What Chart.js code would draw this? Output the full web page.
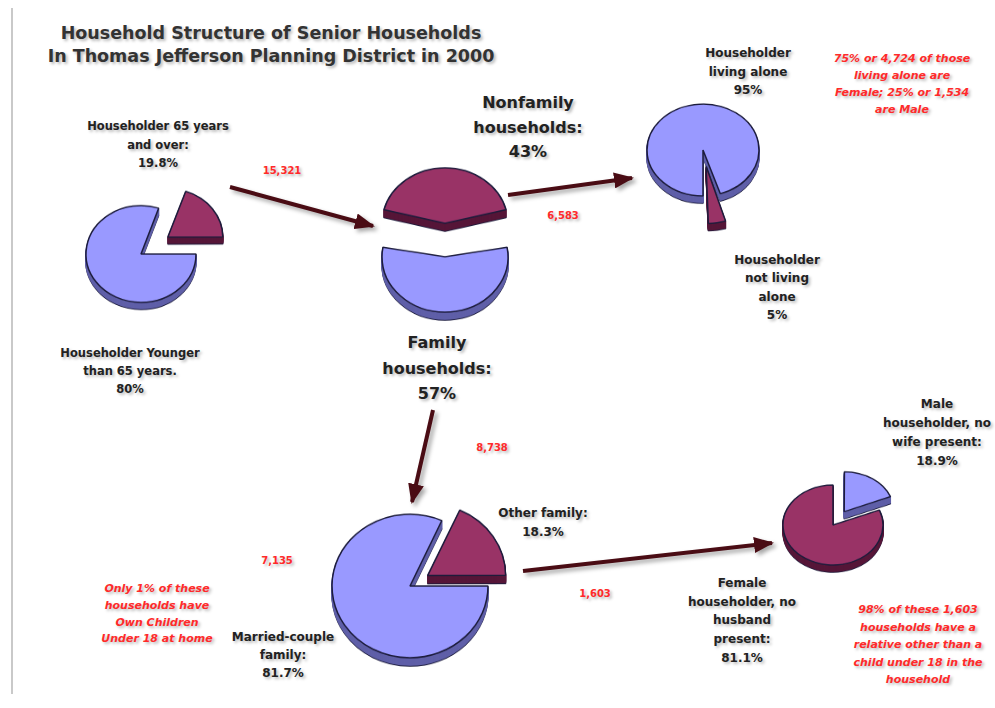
<!DOCTYPE html>
<html>
<head>
<meta charset="utf-8">
<script src="https://cdn.jsdelivr.net/npm/chart.js@4.4.0/dist/chart.umd.min.js"></script>
<style>
    body { margin: 0; background: #fff; width: 995px; height: 708px; position: relative; overflow: hidden; font-family: "DejaVu Sans", sans-serif; }
    .edge { position: absolute; left: 11px; top: 8px; width: 2px; height: 686px; background: #c9c9c9; }
    .pie { position: absolute; }
    .lbl { position: absolute; transform: translateX(-50%); text-align: center; font-weight: bold; color: #222; white-space: nowrap; text-shadow: 2px 2px 3px rgba(0,0,0,0.28); }
    .title { font-size: 17.5px; line-height: 23px; color: #333; }
    .small { font-size: 11.5px; }
    .mid { font-size: 12px; }
    .big { font-size: 16px; }
    .note { color: #ff2a2a; font-style: italic; font-size: 11px; }
    .num { position: absolute; transform: translate(-50%, -50%); color: #ff2a2a; font-weight: bold; font-size: 10px; text-shadow: 2px 2px 3px rgba(0,0,0,0.28); }
    svg { position: absolute; left: 0; top: 0; }
</style>
</head>
<body>
<div class="edge"></div>

<div class="lbl title" style="left:271px; top:22px">Household Structure of Senior Households<br>In Thomas Jefferson Planning District in 2000</div>

<div class="lbl small" style="left:158px; top:117px; line-height:18.5px">Householder 65 years<br>and over:<br>19.8%</div>
<div class="lbl small" style="left:130px; top:344px; line-height:18px">Householder Younger<br>than 65 years.<br>80%</div>
<div class="lbl big" style="left:528px; top:91px; line-height:24.5px">Nonfamily<br>households:<br>43%</div>
<div class="lbl big" style="left:437px; top:330px; line-height:25.5px">Family<br>households:<br>57%</div>
<div class="lbl mid" style="left:748px; top:44px; line-height:18.5px">Householder<br>living alone<br>95%</div>
<div class="lbl mid" style="left:777px; top:251px; line-height:18.3px">Householder<br>not living<br>alone<br>5%</div>
<div class="lbl note" style="left:902px; top:50px; line-height:17px">75% or 4,724 of those<br>living alone are<br>Female; 25% or 1,534<br>are Male</div>
<div class="lbl mid" style="left:543px; top:504px; line-height:19px">Other family:<br>18.3%</div>
<div class="lbl mid" style="left:283px; top:628px; line-height:18px">Married-couple<br>family:<br>81.7%</div>
<div class="lbl note" style="left:157px; top:581px; line-height:16.8px">Only 1% of these<br>households have<br>Own Children<br>Under 18 at home</div>
<div class="lbl mid" style="left:937px; top:395px; line-height:19px">Male<br>householder, no<br>wife present:<br>18.9%</div>
<div class="lbl mid" style="left:742px; top:574px; line-height:18.7px">Female<br>householder, no<br>husband<br>present:<br>81.1%</div>
<div class="lbl note" style="left:918px; top:601px; line-height:17.5px">98% of these 1,603<br>households have a<br>relative other than a<br>child under 18 in the<br>household</div>

<div class="num" style="left:282px; top:170px">15,321</div>
<div class="num" style="left:563px; top:215px">6,583</div>
<div class="num" style="left:492px; top:447px">8,738</div>
<div class="num" style="left:277px; top:560px">7,135</div>
<div class="num" style="left:595px; top:593px">1,603</div>

<svg width="995" height="708">
    <defs>
        <marker id="head" markerUnits="userSpaceOnUse" markerWidth="20" markerHeight="16" refX="18" refY="8" orient="auto">
            <path d="M0,0 L20,8 L0,16 Z" fill="#4a0c14"/>
        </marker>
    </defs>
    <g stroke="#4a0c14" stroke-width="4" marker-end="url(#head)" style="filter: drop-shadow(3px 3px 2px rgba(0,0,0,0.35))">
        <line x1="230" y1="187" x2="373" y2="226"/>
        <line x1="508" y1="195" x2="632" y2="178"/>
        <line x1="433" y1="410" x2="412" y2="502"/>
        <line x1="523" y1="571" x2="772" y2="543"/>
    </g>
</svg>

<script>
// ====== DATA ======
const BLUE = '#9999ff';
const MAROON = '#993366';
const BLUE_SIDE = '#5f5fa8';
const MAROON_SIDE = '#561638';

const ageLabels = ['Householder Younger than 65 years', 'Householder 65 years and over'];
const ageValues = [80.2, 19.8];

const typeLabels = ['Nonfamily households', 'Family households'];
const typeValues = [43, 57];

const nonfamilyLabels = ['Householder living alone', 'Householder not living alone'];
const nonfamilyValues = [95, 5];

const familyLabels = ['Married-couple family', 'Other family'];
const familyValues = [81.7, 18.3];

const otherLabels = ['Male householder, no wife present', 'Female householder, no husband present'];
const otherValues = [18.9, 81.1];

// Chart.js moves an exploded arc by offset / 4
const OFFSET_SCALE = 4;

// Chart.js also makes an exploded arc bigger; undo that unless asked not to
const keepRadiusPlugin = {
    id: 'keepRadius',
    afterDatasetsUpdate(chart, args, opts) {
        if (opts.off) return;
        chart.getDatasetMeta(0).data.forEach(arc => {
            const offset = (arc.options.offset || 0) / 4;
            const fix = 1 - Math.sin(Math.min(Math.PI, arc.circumference));
            arc.outerRadius -= offset * fix;
        });
    }
};

// draws a darker copy of every arc a few pixels lower, gives the 3D rim
const depthPlugin = {
    id: 'depth',
    beforeDatasetsDraw(chart, args, opts) {
        const ctx = chart.ctx;
        chart.getDatasetMeta(0).data.forEach((arc, i) => {
            const saved = arc.options;
            for (let d = opts.depth; d >= 1; d--) {
                const border = d === opts.depth ? '#1c1c3c' : opts.sides[i];
                arc.options = Object.assign({}, saved, { backgroundColor: opts.sides[i], borderColor: border });
                ctx.save();
                ctx.translate(0, d);
                arc.draw(ctx);
                ctx.restore();
            }
            arc.options = saved;
        });
    }
};

function makePie(pie) {
    const {cx, cy, radius, labels, values, colors, sides, offsets, rotation, depth, tilt, grow} = pie;
    const size = 2 * (radius + Math.max(...offsets) + depth + 16);
    const canvas = document.createElement('canvas');
    canvas.className = 'pie';
    canvas.width = size;
    canvas.height = size;
    canvas.style.left = (cx - size / 2) + 'px';
    canvas.style.top = (cy - size / 2) + 'px';
    canvas.style.transform = `scaleY(${tilt})`;   // flattened, like a tilted 3D pie
    document.body.insertBefore(canvas, document.querySelector('svg'));

    return new Chart(canvas, {
        type: 'pie',
        data: {
            labels,
            datasets: [{
                data: values,
                backgroundColor: colors,
                borderColor: '#1c1c3c',
                borderWidth: 1.5,
                offset: offsets.map(o => o * OFFSET_SCALE),
                radius
            }]
        },
        options: {
            responsive: false,
            animation: false,
            events: [],
            rotation,
            layout: { padding: 0 },
            plugins: {
                legend: { display: false },
                tooltip: { enabled: false },
                depth: { depth, sides },
                keepRadius: { off: !!grow }
            }
        },
        plugins: [keepRadiusPlugin, depthPlugin]
    });
}

// ====== PIES ======
makePie({ cx: 141, cy: 254, radius: 55, tilt: 0.88, depth: 8, rotation: 90,
    labels: ageLabels, values: ageValues, colors: [BLUE, MAROON], sides: [BLUE_SIDE, MAROON_SIDE], offsets: [0, 33] });

makePie({ cx: 445, cy: 240, radius: 63, tilt: 0.88, depth: 9, rotation: -typeValues[0] * 1.8,
    labels: typeLabels, values: typeValues, colors: [MAROON, BLUE], sides: [MAROON_SIDE, BLUE_SIDE], offsets: [19, 19] });

makePie({ cx: 703, cy: 150, radius: 56, tilt: 0.82, depth: 9, rotation: 180, grow: true,
    labels: nonfamilyLabels, values: nonfamilyValues, colors: [BLUE, MAROON], sides: [BLUE_SIDE, MAROON_SIDE], offsets: [0, 20] });

makePie({ cx: 410, cy: 586, radius: 78, tilt: 0.92, depth: 9, rotation: 90,
    labels: familyLabels, values: familyValues, colors: [BLUE, MAROON], sides: [BLUE_SIDE, MAROON_SIDE], offsets: [0, 21] });

makePie({ cx: 833, cy: 525, radius: 50, tilt: 0.8, depth: 9, rotation: 0,
    labels: otherLabels, values: otherValues, colors: [BLUE, MAROON], sides: [BLUE_SIDE, MAROON_SIDE], offsets: [20, 0] });
</script>
</body>
</html>
